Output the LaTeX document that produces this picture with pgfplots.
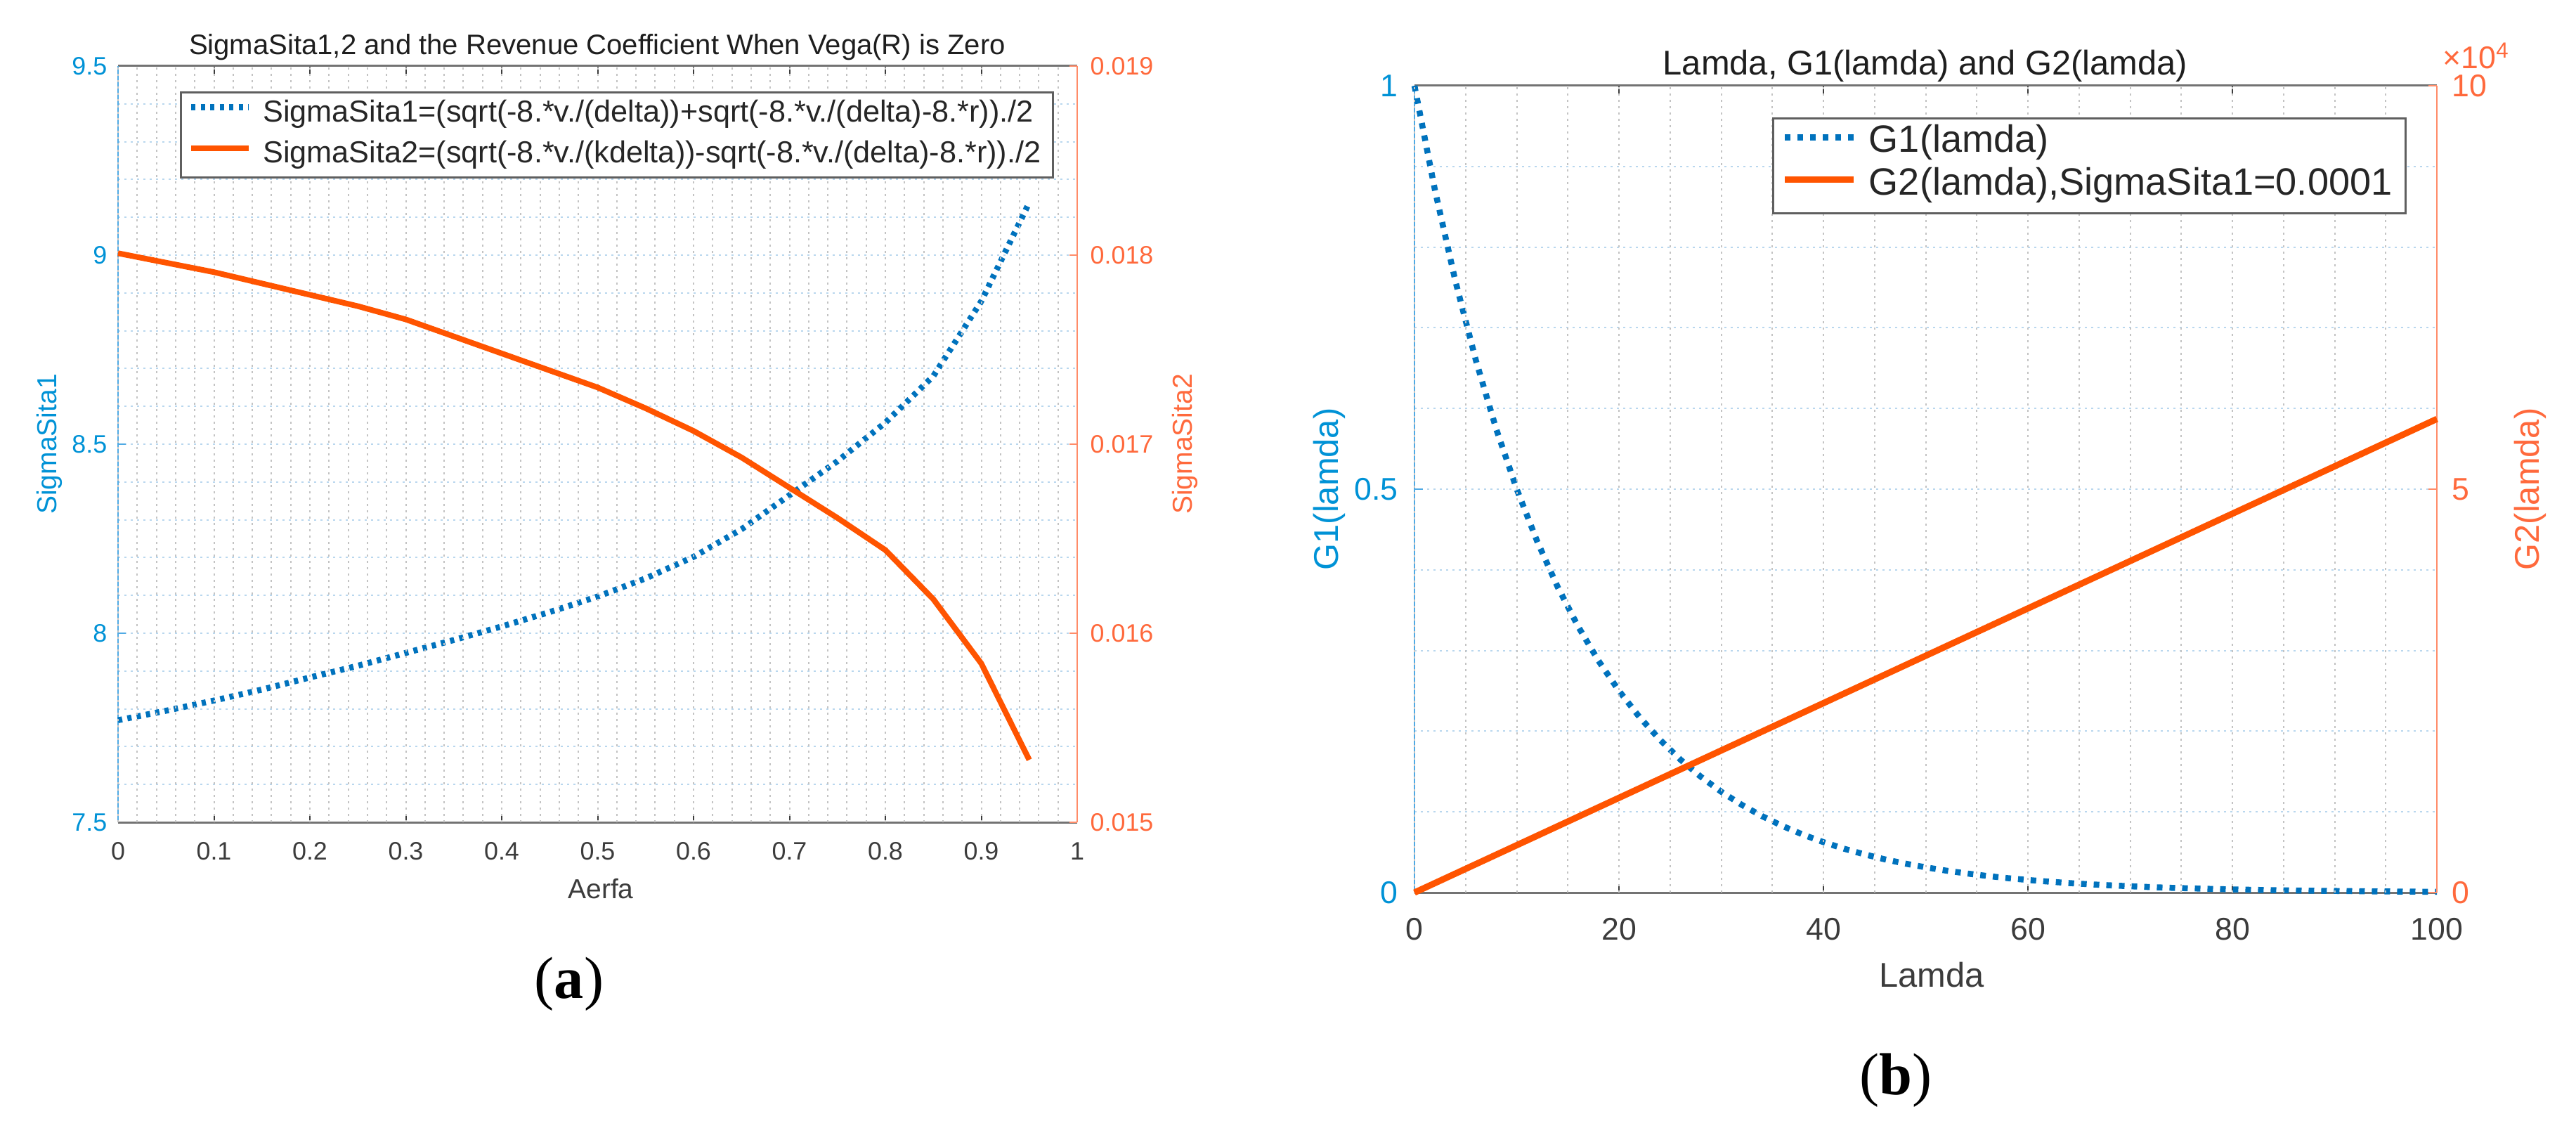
\documentclass[border=0pt]{standalone}
\usepackage{fontspec}
\setmainfont{Liberation Sans}
\newfontfamily\capfont{Liberation Serif}
\usepackage{pgfplots}
\usepackage{pgfplotstable}
\pgfplotsset{compat=1.18}

\definecolor{lineblue}{RGB}{0,114,189}
\definecolor{axblue}{RGB}{0,146,214}
\definecolor{spblue}{RGB}{80,170,228}
\definecolor{lineorange}{RGB}{255,84,0}
\definecolor{axorange}{RGB}{255,105,60}
\definecolor{sporange}{RGB}{255,140,105}
\definecolor{axgray}{RGB}{115,115,115}
\definecolor{tickgray}{RGB}{60,60,60}
\definecolor{titlegray}{RGB}{30,30,30}
\definecolor{hgridc}{RGB}{185,215,238}
\definecolor{vgridc}{RGB}{195,195,195}
\definecolor{leggray}{RGB}{95,95,95}

% (a): SigmaSita1 (left axis) and SigmaSita2 (right axis) against Aerfa
\pgfplotstableread{
a     s1     s2
0.00  7.770  0.01801
0.05  7.795  0.01796
0.10  7.822  0.01791
0.15  7.851  0.01785
0.20  7.883  0.01779
0.25  7.914  0.01773
0.30  7.948  0.01766
0.35  7.982  0.01757
0.40  8.018  0.01748
0.45  8.056  0.01739
0.50  8.097  0.01730
0.55  8.145  0.01719
0.60  8.202  0.01707
0.65  8.275  0.01693
0.70  8.365  0.01677
0.75  8.455  0.01661
0.80  8.557  0.01644
0.85  8.680  0.01618
0.90  8.878  0.01584
0.95  9.139  0.01533
}\sigmatab

% (b): G1(lamda)
\pgfplotstableread{
lam g1
0   1.0000
2   0.8706
4   0.7579
6   0.6598
8   0.5743
10  0.5000
12  0.4353
14  0.3789
16  0.3299
18  0.2872
20  0.2500
22  0.2176
24  0.1895
26  0.1649
28  0.1436
30  0.1250
32  0.1088
34  0.0947
36  0.0825
38  0.0718
40  0.0625
42  0.0544
44  0.0474
46  0.0412
48  0.0359
50  0.0313
52  0.0272
54  0.0237
56  0.0206
58  0.0179
60  0.0156
62  0.0136
64  0.0118
66  0.0103
68  0.0090
70  0.0078
72  0.0068
74  0.0059
76  0.0052
78  0.0045
80  0.0039
82  0.0034
84  0.0030
86  0.0026
88  0.0022
90  0.0020
92  0.0017
94  0.0015
96  0.0013
98  0.0011
100 0.0010
}\gonetab

% (b): G2(lamda)
\pgfplotstableread{
lam g2
0   0
100 58700
}\gtwotab

\pgfplotsset{
  twin/.style={scale only axis, clip=false, tick align=inside,
    minor tick length=0pt, /pgf/number format/assume math mode=true},
  dotgrid/.style={line width=0.02cm, dash pattern=on 0.03cm off 0.06cm},
  hgrid/.style={ymajorgrids, yminorgrids,
    major grid style={dotgrid, draw=hgridc}, minor grid style={dotgrid, draw=hgridc}},
  vgrid/.style={xmajorgrids, xminorgrids,
    major grid style={dotgrid, draw=vgridc}, minor grid style={dotgrid, draw=vgridc}},
}

\begin{document}
\begin{tikzpicture}
\useasboundingbox (0,0) rectangle (36.66,16.04);

% ---------- (a) left y axis ----------
\begin{axis}[twin, at={(1.68cm,4.34cm)}, anchor=south west,
  width=13.65cm, height=10.76cm,
  xmin=0, xmax=1, ymin=7.5, ymax=9.5,
  axis x line=box, axis y line*=left,
  x axis line style={draw=axgray, line width=0.03cm},
  y axis line style={draw=spblue, line width=0.02cm},
  xtick={0,0.1,0.2,0.3,0.4,0.5,0.6,0.7,0.8,0.9,1},
  xticklabels={0,0.1,0.2,0.3,0.4,0.5,0.6,0.7,0.8,0.9,1},
  ytick={7.5,8,8.5,9,9.5}, yticklabels={7.5,8,8.5,9,9.5},
  minor y tick num=4, major tick length=0.11cm,
  x tick style={draw=tickgray, line width=0.02cm},
  y tick style={draw=spblue, line width=0.02cm},
  hgrid,
  xticklabel style={font=\fontsize{10.2}{12}\selectfont, text=tickgray,
    anchor=base, inner sep=0pt, yshift=-0.53cm},
  yticklabel style={font=\fontsize{10.2}{12}\selectfont, text=axblue,
    anchor=east, inner sep=0pt, xshift=-0.15cm},
]
\addplot[lineblue, line width=0.085cm, dash pattern=on 0.06cm off 0.075cm]
  table[x=a, y=s1] {\sigmatab};
\end{axis}

% ---------- (a) right y axis ----------
\begin{axis}[twin, at={(1.68cm,4.34cm)}, anchor=south west,
  width=13.65cm, height=10.76cm,
  xmin=0, xmax=1, ymin=0.015, ymax=0.019,
  axis x line*=bottom, axis y line*=right,
  x axis line style={draw=none},
  y axis line style={draw=sporange, line width=0.02cm},
  xtick={0,0.1,0.2,0.3,0.4,0.5,0.6,0.7,0.8,0.9,1}, xticklabels={},
  minor x tick num=4, x tick style={draw=none},
  ytick={0.015,0.016,0.017,0.018,0.019},
  yticklabels={0.015,0.016,0.017,0.018,0.019}, scaled y ticks=false,
  major tick length=0.11cm,
  y tick style={draw=sporange, line width=0.02cm},
  vgrid,
  yticklabel style={font=\fontsize{10.2}{12}\selectfont, text=axorange,
    anchor=west, inner sep=0pt, xshift=0.18cm},
  legend style={at={(1,1)}, anchor=north east, xshift=-0.33cm, yshift=-0.36cm,
    draw=leggray, line width=0.03cm, fill=white, text=black!85,
    font=\fontsize{12.3}{14}\selectfont,
    inner xsep=0.1cm, inner ysep=0.085cm, /tikz/row sep=0.126cm, /tikz/column sep=0.09cm,
    cells={inner sep=0pt, text height=0.75em, text depth=0.25em}},
  legend cell align=left,
  legend image code/.code={\draw[#1] (0cm,0.3em) -- (0.82cm,0.3em);},
]
\addlegendimage{lineblue, line width=0.085cm, dash pattern=on 0.06cm off 0.075cm}
\addlegendentry{SigmaSita1=(sqrt(-8.*v./(delta))+sqrt(-8.*v./(delta)-8.*r))./2}
\addplot[lineorange, line width=0.08cm] table[x=a, y=s2] {\sigmatab};
\addlegendentry{SigmaSita2=(sqrt(-8.*v./(kdelta))-sqrt(-8.*v./(delta)-8.*r))./2}
\end{axis}

\node[anchor=base, inner sep=0pt, text=titlegray, font=\fontsize{11.4}{13}\selectfont]
  at (8.50,15.26) {SigmaSita1,2 and the Revenue Coefficient When Vega(R) is Zero};
\node[anchor=base, inner sep=0pt, text=tickgray, font=\fontsize{11.1}{13}\selectfont]
  at (8.55,3.26) {Aerfa};
\node[rotate=90, inner sep=0pt, text=axblue, font=\fontsize{11.1}{13}\selectfont]
  at (0.70,9.72) {SigmaSita1};
\node[rotate=90, inner sep=0pt, text=axorange, font=\fontsize{11.1}{13}\selectfont]
  at (16.86,9.72) {SigmaSita2};
\node[inner sep=0pt, font=\capfont\fontsize{24}{28}\selectfont]
  at (8.10,2.04) {(\textbf{a})};

% ---------- (b) left y axis ----------
\begin{axis}[twin, at={(20.13cm,3.34cm)}, anchor=south west,
  width=14.55cm, height=11.48cm,
  xmin=0, xmax=100, ymin=0, ymax=1,
  axis x line=box, axis y line*=left,
  x axis line style={draw=axgray, line width=0.03cm},
  y axis line style={draw=spblue, line width=0.02cm},
  xtick={0,20,40,60,80,100}, xticklabels={0,20,40,60,80,100},
  ytick={0,0.5,1}, yticklabels={0,0.5,1},
  minor y tick num=4, major tick length=0.12cm,
  x tick style={draw=tickgray, line width=0.02cm},
  y tick style={draw=spblue, line width=0.02cm},
  hgrid,
  xticklabel style={font=\fontsize{12.7}{15}\selectfont, text=tickgray,
    anchor=base, inner sep=0pt, yshift=-0.67cm},
  yticklabel style={font=\fontsize{12.7}{15}\selectfont, text=axblue,
    anchor=east, inner sep=0pt, xshift=-0.23cm},
]
\addplot[lineblue, line width=0.085cm, dash pattern=on 0.08cm off 0.10cm]
  table[x=lam, y=g1] {\gonetab};
\end{axis}

% ---------- (b) right y axis ----------
\begin{axis}[twin, at={(20.13cm,3.34cm)}, anchor=south west,
  width=14.55cm, height=11.48cm,
  xmin=0, xmax=100, ymin=0, ymax=100000,
  axis x line*=bottom, axis y line*=right,
  x axis line style={draw=none},
  y axis line style={draw=sporange, line width=0.02cm},
  xtick={0,20,40,60,80,100}, xticklabels={},
  minor x tick num=3, x tick style={draw=none},
  ytick={0,50000,100000}, yticklabels={0,5,10}, scaled y ticks=false,
  major tick length=0.12cm,
  y tick style={draw=sporange, line width=0.02cm},
  vgrid,
  yticklabel style={font=\fontsize{12.7}{15}\selectfont, text=axorange,
    anchor=west, inner sep=0pt, xshift=0.21cm},
  legend style={at={(1,1)}, anchor=north east, xshift=-0.43cm, yshift=-0.45cm,
    draw=leggray, line width=0.03cm, fill=white, text=black!85,
    font=\fontsize{15.4}{18}\selectfont,
    inner xsep=0.12cm, inner ysep=0.145cm, /tikz/row sep=0.15cm, /tikz/column sep=0.1cm,
    cells={inner sep=0pt, text height=0.75em, text depth=0.25em}},
  legend cell align=left,
  legend image code/.code={\draw[#1] (0cm,0.3em) -- (0.98cm,0.3em);},
]
\addlegendimage{lineblue, line width=0.085cm, dash pattern=on 0.08cm off 0.10cm}
\addlegendentry{G1(lamda)}
\addplot[lineorange, line width=0.09cm] table[x=lam, y=g2] {\gtwotab};
\addlegendentry{G2(lamda),SigmaSita1=0.0001}
\end{axis}

\node[anchor=base, inner sep=0pt, text=titlegray, font=\fontsize{13.9}{16}\selectfont]
  at (27.40,14.97) {Lamda, G1(lamda) and G2(lamda)};
\node[anchor=base, inner sep=0pt, text=tickgray, font=\fontsize{13.9}{16}\selectfont]
  at (27.49,2.00) {Lamda};
\node[rotate=90, inner sep=0pt, text=axblue, font=\fontsize{13.9}{16}\selectfont]
  at (18.92,9.08) {G1(lamda)};
\node[rotate=90, inner sep=0pt, text=axorange, font=\fontsize{13.9}{16}\selectfont]
  at (36.01,9.08) {G2(lamda)};
\node[anchor=base west, inner sep=0pt, text=axorange, font=\fontsize{12.7}{15}\selectfont]
  at (34.76,15.06) {×10\textsuperscript{4}};
\node[inner sep=0pt, font=\capfont\fontsize{24}{28}\selectfont]
  at (26.98,0.67) {(\textbf{b})};
\end{tikzpicture}
\end{document}
